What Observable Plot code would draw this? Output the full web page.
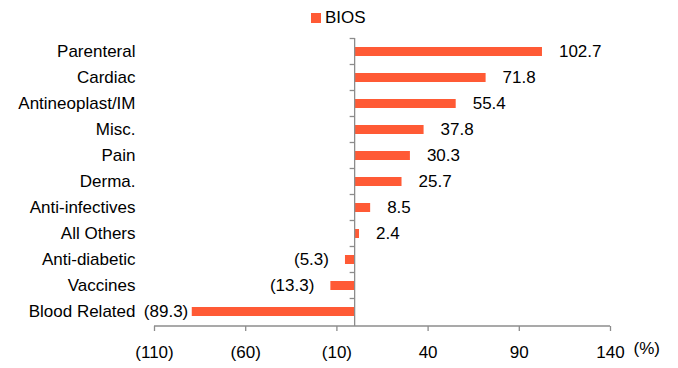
<!DOCTYPE html>
<html>
<head>
<meta charset="utf-8">
<script src="https://cdn.jsdelivr.net/npm/d3@7"></script>
<script src="https://cdn.jsdelivr.net/npm/@observablehq/plot@0.6"></script>
<style>
  html, body { margin: 0; padding: 0; background: #fff; }
  body { width: 678px; height: 368px; overflow: hidden; font-family: "Liberation Sans", Arial, sans-serif; }
  #legend { position: relative; height: 30px; }
  #legend .sw { position: absolute; left: 311px; top: 13px; width: 10px; height: 10px; }
  #legend .lb { position: absolute; left: 325px; top: 8px; font-size: 17px; line-height: 19px; color: #000; }
</style>
</head>
<body>
<div id="legend"><div class="sw"></div><div class="lb"></div></div>
<div id="chart"></div>
<script>
const seriesName = "BIOS";
const categories = ["Parenteral", "Cardiac", "Antineoplast/IM", "Misc.", "Pain", "Derma.", "Anti-infectives", "All Others", "Anti-diabetic", "Vaccines", "Blood Related"];
const values = [102.7, 71.8, 55.4, 37.8, 30.3, 25.7, 8.5, 2.4, -5.3, -13.3, -89.3];
const xTicks = [-110, -60, -10, 40, 90, 140];
const unitLabel = "(%)";

const barColor = "#FF5A35";
const axisColor = "#8C8C8C";
const fontFamily = "'Liberation Sans', Arial, sans-serif";

document.querySelector("#legend .sw").style.background = barColor;
document.querySelector("#legend .lb").textContent = seriesName;

const data = categories.map((c, i) => ({category: c, value: values[i]}));
const fmt = v => v < 0 ? `(${(-v).toFixed(1)})` : v.toFixed(1);
const tickFmt = v => v < 0 ? `(${-v})` : `${v}`;

// custom axes: bottom axis line, vertical zero line with band-boundary ticks
function axesLines(...args) {
  const scales = args.find(a => a && typeof a.x === "function" && typeof a.y === "function");
  const dims = args.find(a => a && typeof a === "object" && "marginLeft" in a && "width" in a);
  const x = scales.x, y = scales.y;
  const step = y.step(), bw = y.bandwidth();
  const off = (step - bw) / 2;
  const g = d3.create("svg:g").attr("stroke", axisColor).attr("stroke-width", 1.3).attr("fill", "none");
  const yTop = dims.marginTop;
  const yBot = dims.height - dims.marginBottom;
  const x0 = x(0);
  const [dx0, dx1] = x.domain();
  g.append("line").attr("x1", x(dx0)).attr("x2", x(dx1)).attr("y1", yBot).attr("y2", yBot);
  g.append("line").attr("x1", x0).attr("x2", x0).attr("y1", yTop).attr("y2", yBot);
  const bounds = y.domain().map(c => y(c) - off);
  for (const b of bounds) {
    g.append("line").attr("x1", x0 - 5).attr("x2", x0).attr("y1", b).attr("y2", b);
  }
  return g.node();
}

const labelStyle = {x: "value", y: "category", text: d => fmt(d.value), fontSize: 17, fill: "#000"};

const chart = Plot.plot({
  width: 678,
  height: 338,
  marginTop: 8,
  marginBottom: 42,
  marginLeft: 154,
  marginRight: 68,
  style: {fontSize: "17px", fontFamily, color: "#000", background: "#fff", overflow: "visible"},
  x: {domain: [xTicks[0], xTicks[xTicks.length - 1]], axis: null},
  y: {domain: categories, paddingInner: 0.64, paddingOuter: 0.32, axis: null},
  marks: [
    Plot.barX(data, {x: "value", y: "category", fill: barColor}),
    Plot.axisY({tickSize: 0, tickPadding: 19, fontSize: 17, fill: "#000", label: null}),
    Plot.axisX({ticks: xTicks, tickFormat: tickFmt, tickSize: 5, tickPadding: 14, stroke: axisColor, strokeWidth: 1.3, fill: "#000", fontSize: 17, label: null}),
    axesLines,
    Plot.text(data.filter(d => d.value >= 0), {...labelStyle, textAnchor: "start", dx: 16.5}),
    Plot.text(data.filter(d => d.value < 0 && d.value > -80), {...labelStyle, textAnchor: "end", dx: -16.5}),
    Plot.text(data.filter(d => d.value <= -80), {...labelStyle, textAnchor: "end", dx: -4}),
    Plot.text([unitLabel], {frameAnchor: "bottom-right", dx: 23, dy: 22, textAnchor: "start", lineAnchor: "middle", fontSize: 17, fill: "#000"})
  ]
});
document.getElementById("chart").appendChild(chart);
</script>
</body>
</html>
